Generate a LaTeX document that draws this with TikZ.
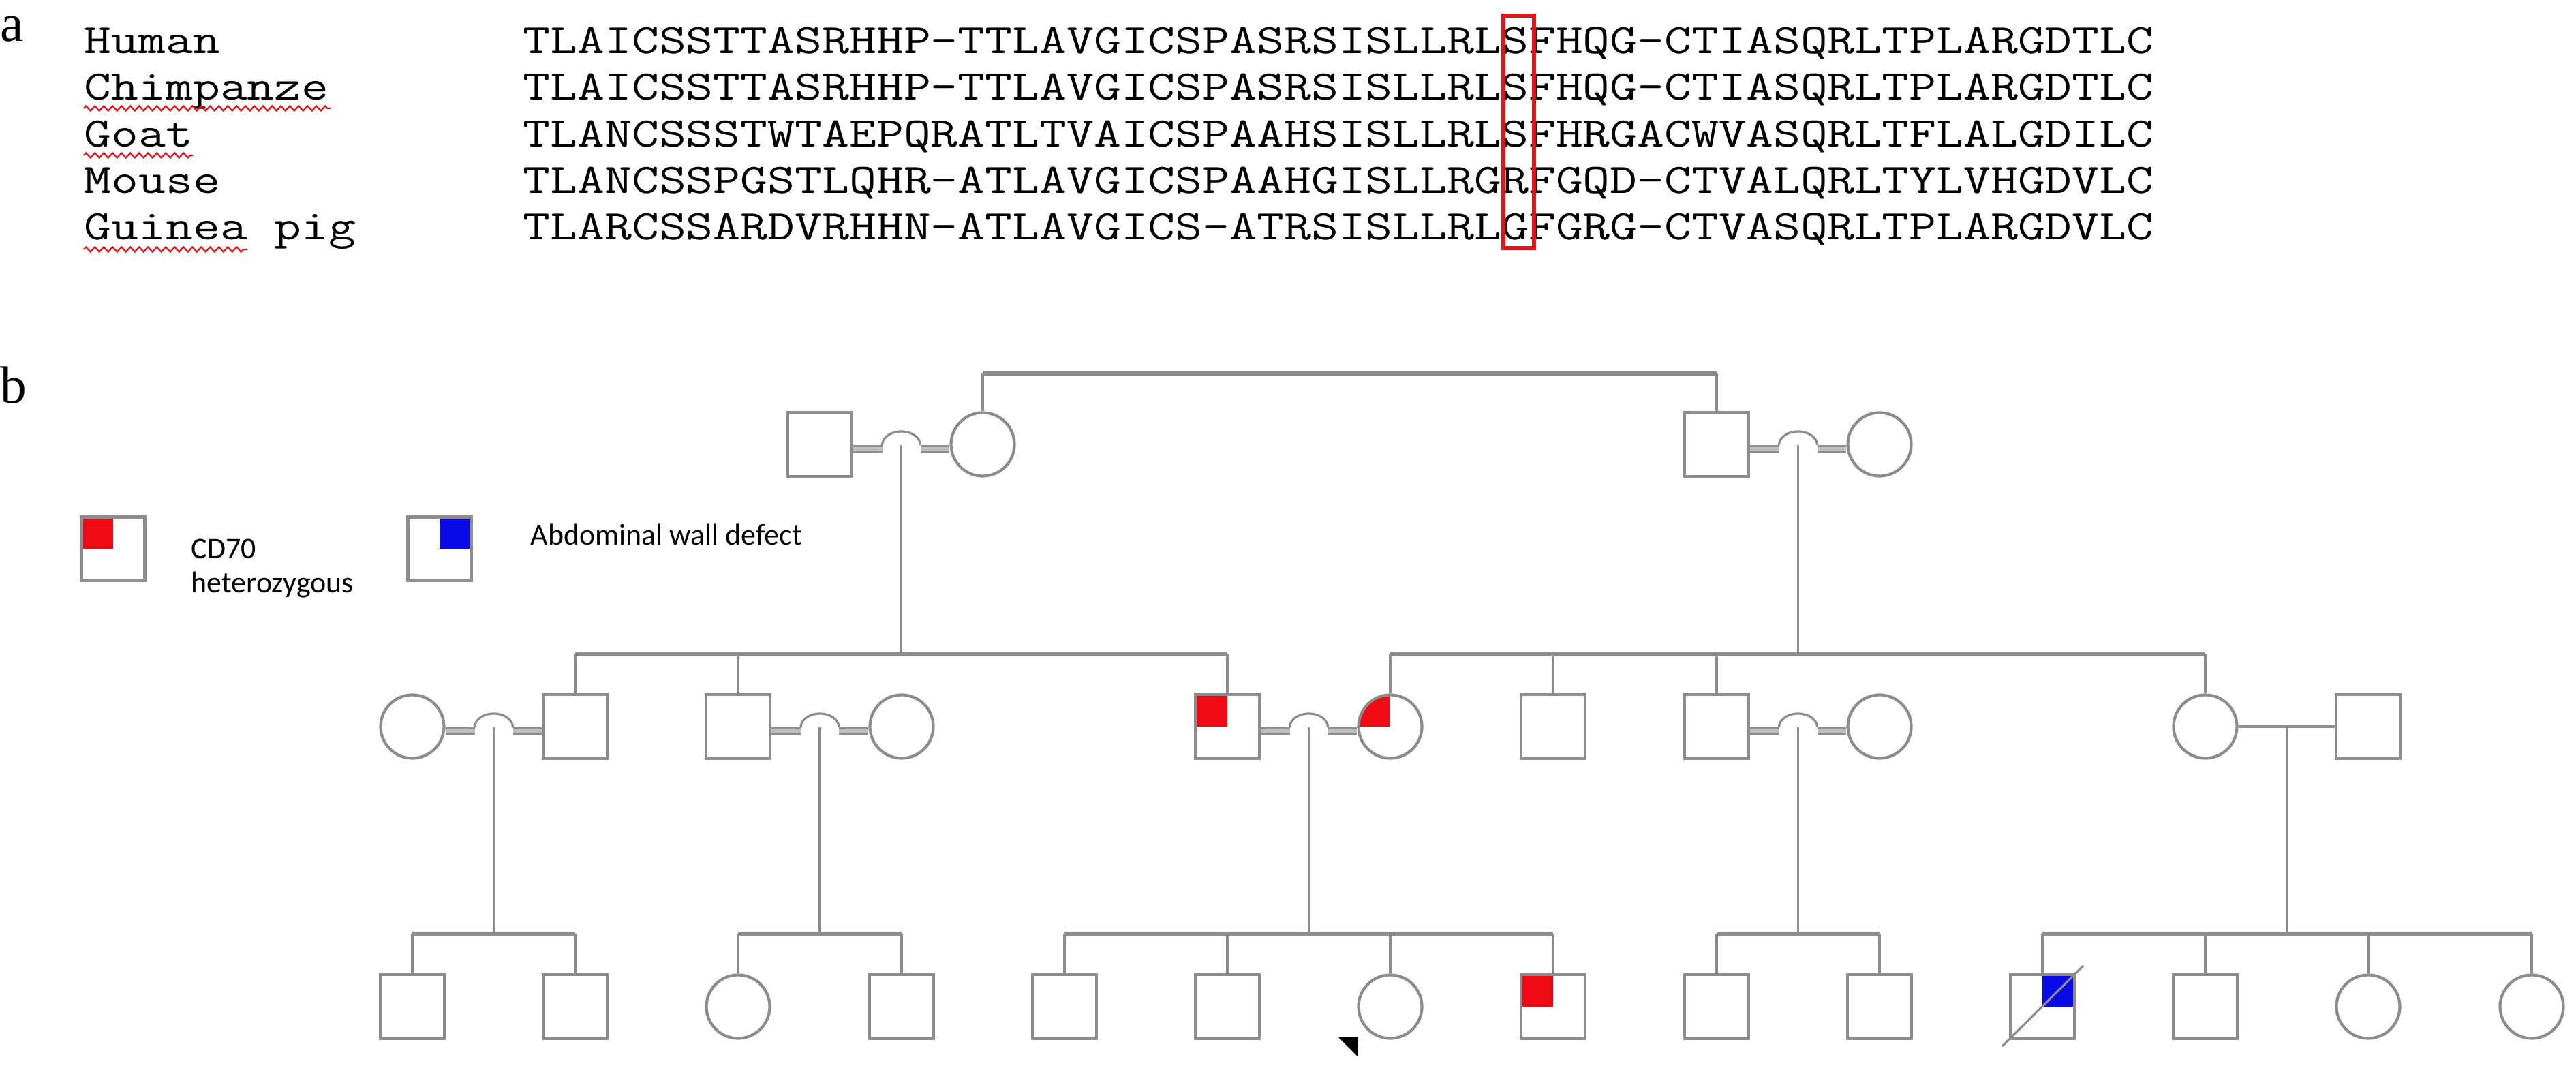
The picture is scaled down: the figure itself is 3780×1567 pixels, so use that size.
\documentclass[tikz,border=0pt]{standalone}
\usepackage{fontspec}
\setmainfont{Liberation Serif}
\newfontfamily\legfont{Carlito}
\usetikzlibrary{calc,decorations.pathmorphing}
\definecolor{pedgray}{RGB}{140,140,140}
\definecolor{pedlight}{RGB}{190,190,190}
\definecolor{pedred}{RGB}{240,10,20}
\definecolor{pedblue}{RGB}{10,10,230}
\definecolor{boxred}{RGB}{225,20,30}
\newcommand{\hopmarr}[5]{%
  \coordinate (#3) at (#4,#5);
  \draw[band] (#1.east |- #3) -- ([xshift=-2.8mm]#3);
  \draw[band] ([xshift=2.8mm]#3) -- (#2.west |- #3);
  \draw[hopln] ([xshift=-2.8mm,yshift=0.6mm]#3) arc[start angle=180,end angle=0,x radius=2.8mm,y radius=2mm];
}
\newcommand{\sq}[1]{\scalebox{1.259}[1]{#1}}
\begin{document}
\begin{tikzpicture}[x=0.1mm,y=-0.1mm,
  male/.style={draw=pedgray, line width=0.42mm, rectangle, minimum size=9.4mm, inner sep=0pt, fill=white},
  female/.style={draw=pedgray, line width=0.42mm, circle, minimum size=9.3mm, inner sep=0pt, fill=white},
  carrier/.style={path picture={\fill[pedred] (path picture bounding box.north west) rectangle (path picture bounding box.center);}},
  affected/.style={path picture={\fill[pedblue] (path picture bounding box.north east) rectangle (path picture bounding box.center);}},
  conn/.style={draw=pedgray, line width=0.32mm},
  sib/.style={draw=pedgray, line width=0.55mm},
  band/.style={draw=pedgray, line width=0.25mm, double=pedlight, double distance=0.6mm},
  hopln/.style={draw=pedgray, line width=0.32mm},
  seq/.style={anchor=base west, inner sep=0pt, font=\ttfamily\fontsize{17.5}{20}\selectfont},
  leg/.style={anchor=base west, inner sep=0pt, font=\legfont\fontsize{12.5}{14}\selectfont},
  panel/.style={anchor=base west, inner sep=0pt, font=\fontsize{22}{24}\selectfont},
  squig/.style={draw=pedred, line width=0.22mm, decorate, decoration={zigzag, segment length=1.3mm, amplitude=0.35mm}}
]
\useasboundingbox (0,0) rectangle (3780,1567);
\fill[white] (0,0) rectangle (3780,1567);

% ---------- panel a ----------
\node[panel] (la) at (0,61) {a};
\node[seq] (n1) at (123,79)  {\sq{Human}};
\node[seq] (n2) at (123,147) {\sq{Chimpanze}};
\node[seq] (n3) at (123,216) {\sq{Goat}};
\node[seq] (n4) at (123,284) {\sq{Mouse}};
\node[seq] (n5) at (123,352) {\sq{Guinea pig}};
\node[seq] (q1) at (767,79)  {\sq{TLAICSSTTASRHHP-TTLAVGICSPASRSISLLRLSFHQG-CTIASQRLTPLARGDTLC}};
\node[seq] (q2) at (767,147) {\sq{TLAICSSTTASRHHP-TTLAVGICSPASRSISLLRLSFHQG-CTIASQRLTPLARGDTLC}};
\node[seq] (q3) at (767,216) {\sq{TLANCSSSTWTAEPQRATLTVAICSPAAHSISLLRLSFHRGACWVASQRLTFLALGDILC}};
\node[seq] (q4) at (767,284) {\sq{TLANCSSPGSTLQHR-ATLAVGICSPAAHGISLLRGRFGQD-CTVALQRLTYLVHGDVLC}};
\node[seq] (q5) at (767,352) {\sq{TLARCSSARDVRHHN-ATLAVGICS-ATRSISLLRLGFGRG-CTVASQRLTPLARGDVLC}};
\draw[squig] (123,159) -- (485,159);
\draw[squig] (123,228) -- (283,228);
\draw[squig] (123,366) -- (363,366);
\node[draw=boxred, line width=0.6mm, minimum width=4.5mm, minimum height=34.1mm, inner sep=0pt] (hl) at (2228,194) {};

% ---------- panel b ----------
\node[panel] (lb) at (0,592) {b};

% legend
\node[male, minimum size=9.3mm, carrier] (legc) at (166,805) {};
\node[male, minimum size=9.3mm, affected] (lega) at (645,805) {};
\node[leg] (legt1) at (280,820) {CD70};
\node[leg] (legt2) at (280,870) {heterozygous};
\node[leg] (legt3) at (778,800) {Abdominal wall defect};

% generation I
\node[male]   (g1a) at (1203,652) {};
\node[female] (g1b) at (1442,652) {};
\node[male]   (g1c) at (2519,652) {};
\node[female] (g1d) at (2758,652) {};
\hopmarr{g1a}{g1b}{m1}{1322.5}{659}
\hopmarr{g1c}{g1d}{m2}{2638.5}{659}
\coordinate (t1) at (1980,548);
\draw[conn] (g1b.north) -- (g1b.north |- t1);
\draw[sib] (g1b.north |- t1) -- (g1c.north |- t1);
\draw[conn] (g1c.north |- t1) -- (g1c.north);

% generation II
\node[female] (A1) at (605,1066) {};
\node[male]   (A2) at (844,1066) {};
\node[male]   (B1) at (1083,1066) {};
\node[female] (B2) at (1323,1066) {};
\node[male, carrier]   (C1) at (1801,1066) {};
\node[female, carrier] (C2) at (2040,1066) {};
\node[male]   (D1) at (2279,1066) {};
\node[male]   (E1) at (2519,1066) {};
\node[female] (E2) at (2758,1066) {};
\node[female] (F1) at (3236,1066) {};
\node[male]   (F2) at (3475,1066) {};
\hopmarr{A1}{A2}{mA}{724.5}{1073}
\hopmarr{B1}{B2}{mB}{1203}{1073}
\hopmarr{C1}{C2}{mC}{1920.5}{1073}
\hopmarr{E1}{E2}{mE}{2638.5}{1073}
\coordinate (mF) at (3355.5,1066);
\draw[conn] (F1.east) -- (F2.west);

% sibships I -> II
\coordinate (s1) at (1322.5,960);
\coordinate (s2) at (2638.5,960);
\draw[conn] ([yshift=0.6mm]m1) -- (s1);
\draw[conn] ([yshift=0.6mm]m2) -- (s2);
\draw[sib] (A2.north |- s1) -- (C1.north |- s1);
\draw[sib] (C2.north |- s2) -- (F1.north |- s2);
\foreach \c in {A2,B1,C1} \draw[conn] (\c.north |- s1) -- (\c.north);
\foreach \c in {C2,D1,E1,F1} \draw[conn] (\c.north |- s2) -- (\c.north);

% generation III
\node[male]   (k0) at (605,1477) {};
\node[male]   (k1) at (844,1477) {};
\node[female] (k2) at (1083,1477) {};
\node[male]   (k3) at (1323,1477) {};
\node[male]   (k4) at (1562,1477) {};
\node[male]   (k5) at (1801,1477) {};
\node[female] (k6) at (2040,1477) {};
\node[male, carrier]  (k7) at (2279,1477) {};
\node[male]   (k8) at (2519,1477) {};
\node[male]   (k9) at (2758,1477) {};
\node[male, affected] (k10) at (2997,1477) {};
\node[male]   (k11) at (3236,1477) {};
\node[female] (k12) at (3475,1477) {};
\node[female] (k13) at (3715,1477) {};

% sibships II -> III
\coordinate (sA) at (724.5,1370);
\coordinate (sB) at (1203,1370);
\coordinate (sC) at (1920.5,1370);
\coordinate (sE) at (2638.5,1370);
\coordinate (sF) at (3355.5,1370);
\draw[conn] ([yshift=0.6mm]mA) -- (sA);
\draw[conn] ([yshift=0.6mm]mB) -- (sB);
\draw[conn] ([yshift=0.6mm]mC) -- (sC);
\draw[conn] ([yshift=0.6mm]mE) -- (sE);
\draw[conn] (mF) -- (sF);
\draw[sib] (k0.north |- sA) -- (k1.north |- sA);
\draw[sib] (k2.north |- sB) -- (k3.north |- sB);
\draw[sib] (k4.north |- sC) -- (k7.north |- sC);
\draw[sib] (k8.north |- sE) -- (k9.north |- sE);
\draw[sib] (k10.north |- sF) -- (k13.north |- sF);
\foreach \c in {k0,k1} \draw[conn] (\c.north |- sA) -- (\c.north);
\foreach \c in {k2,k3} \draw[conn] (\c.north |- sB) -- (\c.north);
\foreach \c in {k4,k5,k6,k7} \draw[conn] (\c.north |- sC) -- (\c.north);
\foreach \c in {k8,k9} \draw[conn] (\c.north |- sE) -- (\c.north);
\foreach \c in {k10,k11,k12,k13} \draw[conn] (\c.north |- sF) -- (\c.north);

% deceased slash and proband arrow
\draw[conn] ($(k10)+(-59,58)$) -- ($(k10)+(60,-60)$);
\fill[black] ($(k6)+(-76,45)$) -- ($(k6)+(-47,45)$) -- ($(k6)+(-48,73)$) -- cycle;
\end{tikzpicture}
\end{document}
